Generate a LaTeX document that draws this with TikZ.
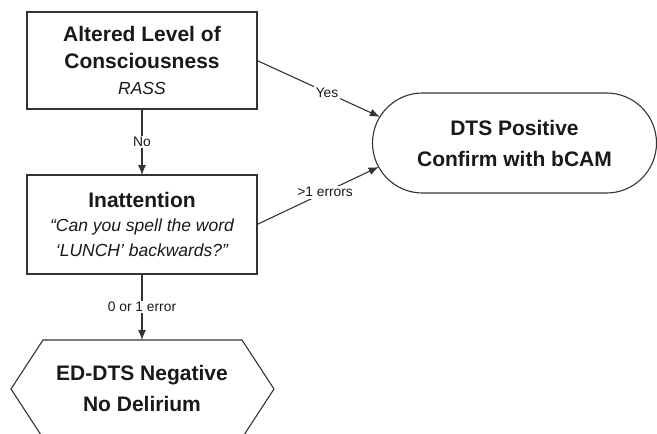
\documentclass[tikz,border=0pt]{standalone}
\usepackage{fontspec}
\setmainfont{Liberation Sans}
\usetikzlibrary{shapes.misc,arrows.meta}
\newcommand{\qfont}{\fontsize{17.5}{23}\selectfont\mdseries\itshape}
\begin{document}
\begin{tikzpicture}[x=1pt,y=-1pt,
  every node/.style={inner sep=0pt, outer sep=0pt, text=black!90},
  boxstyle/.style={draw=black!80, line width=1.1pt, minimum width=230pt, align=center},
  conn/.style={draw=black!80, line width=1.1pt, -{Latex[length=10pt,width=8pt]}},
  lab/.style={fill=white, inner sep=1.5pt, font=\fontsize{13.8}{15}\selectfont},
  bigbold/.style={font=\fontsize{21}{27}\selectfont\bfseries},
]
\useasboundingbox (0,0) rectangle (657,434);
% boxes
\node[boxstyle, minimum height=97pt, bigbold] (alc) at (142,60.5)
  {Altered Level of\\Consciousness\\[-1pt]\fontsize{17.5}{21}\selectfont\mdseries\itshape RASS};
\node[boxstyle, minimum height=99pt, font=\fontsize{21}{25}\selectfont\bfseries] (inat) at (142,224.5)
  {\raisebox{-2pt}{Inattention}\\[-1pt]
   \qfont\raisebox{-2pt}{“Can you spell the word}\\\qfont\raisebox{-2pt}{‘LUNCH’ backwards?”}};
\node[draw=black!80, line width=1.1pt, rounded rectangle, minimum width=284pt, minimum height=100pt,
  align=center, font=\fontsize{21}{31}\selectfont\bfseries] (dts) at (514.5,143)
  {DTS Positive\\Confirm with bCAM};
% hexagon
\draw[draw=black!80, line width=1.1pt] (43,340) -- (242,340) -- (274,389) -- (242,438) -- (43,438) -- (11,389) -- cycle;
\coordinate (negtop) at (142,340);
\node[align=center, font=\fontsize{21}{31}\selectfont\bfseries] (neg) at (142,388)
  {ED-DTS Negative\\No Delirium};
% connectors
\draw[conn] (alc.south) -- node[lab] (lno) {No} (inat.north);
\draw[conn] (alc.east) -- node[lab, pos=0.57] (lyes) {Yes} (dts.169.6);
\draw[conn] (inat.east) -- node[lab, pos=0.56] (lerr) {>1 errors} (dts.190.4);
\draw[conn] (inat.south) -- node[lab, pos=0.5] (lzero) {0 or 1 error} (negtop);
\end{tikzpicture}
\end{document}
